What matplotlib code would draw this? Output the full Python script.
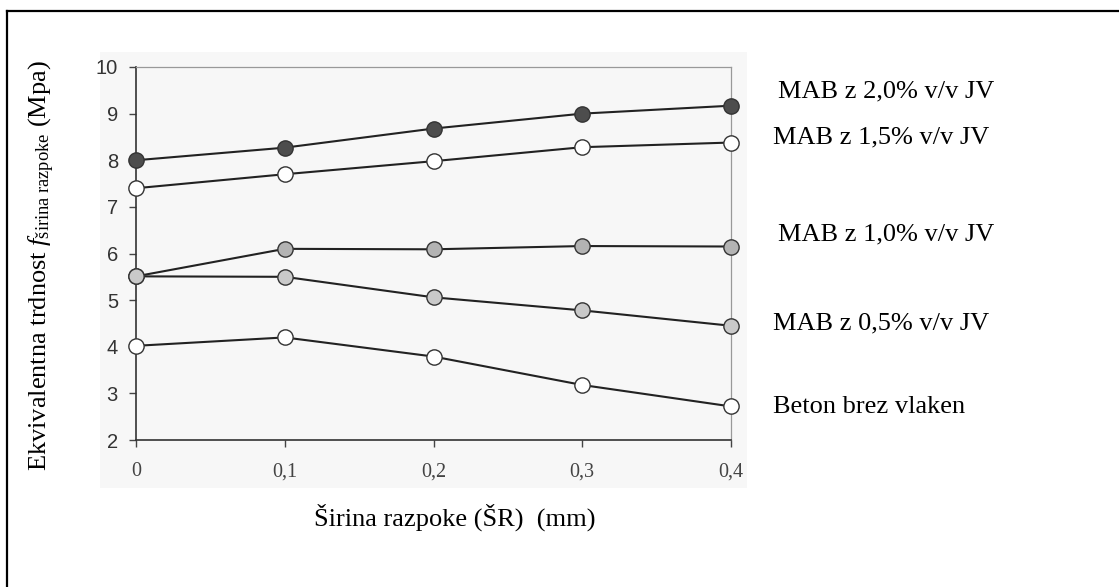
import matplotlib.pyplot as plt
from matplotlib.patches import Rectangle
from matplotlib.lines import Line2D

# podatki (odčitani z grafa)
sirina = [0, 0.1, 0.2, 0.3, 0.4]
sirina_lbl = ['0', '0,1', '0,2', '0,3', '0,4']
jv20 = [8.0, 8.27, 8.68, 9.0, 9.17]
jv15 = [7.4, 7.7, 7.98, 8.28, 8.38]
jv10 = [5.51, 6.1, 6.09, 6.16, 6.15]
jv05 = [5.51, 5.5, 5.06, 4.78, 4.45]
beton = [4.02, 4.2, 3.79, 3.18, 2.72]
y_ticks = [2, 3, 4, 5, 6, 7, 8, 9, 10]

serije = [
    ('MAB z 2,0% v/v JV', jv20, '#4d4d4d', 91, 778),
    ('MAB z 1,5% v/v JV', jv15, 'white', 137, 773),
    ('MAB z 1,0% v/v JV', jv10, '#b3b3b3', 234, 778),
    ('MAB z 0,5% v/v JV', jv05, '#c9c9c9', 323, 773),
    ('Beton brez vlaken', beton, 'white', 407, 773),
]

plt.rcParams['mathtext.fontset'] = 'custom'
plt.rcParams['mathtext.rm'] = 'Liberation Serif'
plt.rcParams['mathtext.it'] = 'Liberation Serif:italic'

W, H = 1119, 587
fig = plt.figure(figsize=(W / 100, H / 100), dpi=100)

# svetlo siva podlaga (skeniran graf)
fig.add_artist(Rectangle((100 / W, 1 - 488 / H), 647 / W, 436 / H,
                         transform=fig.transFigure, fc='#f7f7f7', ec='none', zorder=-5))

# okvir (samo zgornji in levi rob je viden)
fig.add_artist(Line2D([7 / W, 1], [1 - 11 / H, 1 - 11 / H], color='black', lw=1.6))
fig.add_artist(Line2D([7 / W, 7 / W], [0, 1 - 11 / H], color='black', lw=1.6))

ax = fig.add_axes([136 / W, 1 - 440 / H, 595 / W, 373 / H])
ax.set_zorder(2)
ax.set_facecolor('none')

for ime, vals, barva, ty, tx in serije:
    ax.plot(sirina, vals, color='#222222', lw=1.5, marker='o', markersize=11,
            markerfacecolor=barva, markeredgecolor='#333333', markeredgewidth=1.0,
            clip_on=False, zorder=3)
    fig.text(tx / W, 1 - ty / H, ime, family='Liberation Serif', fontsize=19,
             ha='left', va='center')

ax.set_xlim(0, 0.4)
ax.set_ylim(2, 10)
ax.set_xticks(sirina)
ax.set_xticklabels(sirina_lbl, family='Liberation Serif', fontsize=14.5, color='#444444')
ax.set_yticks(y_ticks)
ax.set_yticklabels([str(v) for v in y_ticks], family='Liberation Sans', fontsize=14.5, color='#333333')
ax.tick_params(axis='y', direction='out', length=5, width=1, color='#444444', pad=8)
ax.tick_params(axis='x', direction='out', length=5, width=1, color='#444444', pad=11)

for s in ['left', 'bottom']:
    ax.spines[s].set_color('#333333')
    ax.spines[s].set_linewidth(1.2)
for s in ['top', 'right']:
    ax.spines[s].set_color('#999999')
    ax.spines[s].set_linewidth(0.9)

fig.text(455 / W, 1 - 517 / H, 'Širina razpoke (ŠR)  (mm)', family='Liberation Serif',
         fontsize=19, ha='center', va='center')
fig.text(42 / W, 1 - 266 / H,
         'Ekvivalentna trdnost $\\mathit{f}_{\\mathrm{širina\\ razpoke}}$ (Mpa)',
         family='Liberation Serif', fontsize=19, rotation=90, ha='center', va='center')

fig.savefig('out.png', dpi=100)
